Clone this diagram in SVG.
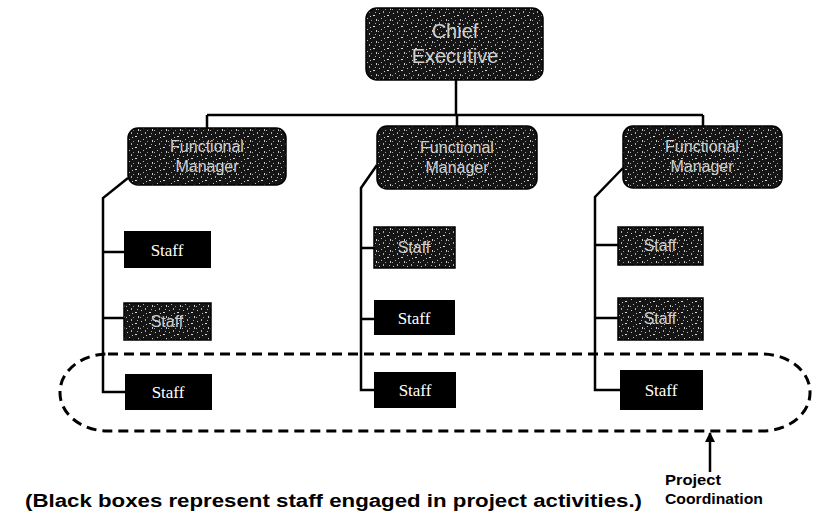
<svg xmlns="http://www.w3.org/2000/svg" width="816" height="517" viewBox="0 0 816 517">
<defs>
<pattern id="speck" width="14" height="11" patternUnits="userSpaceOnUse">
<rect width="14" height="11" fill="#151515"/>
<rect x="1" y="2" width="1" height="1" fill="#ccc"/>
<rect x="5" y="0" width="1" height="2" fill="#aaa"/>
<rect x="9" y="4" width="2" height="1" fill="#ddd"/>
<rect x="3" y="7" width="1" height="1" fill="#bbb"/>
<rect x="12" y="8" width="1" height="2" fill="#ccc"/>
<rect x="7" y="9" width="1" height="1" fill="#999"/>
<rect x="11" y="1" width="1" height="1" fill="#aaa"/>
<rect x="6" y="5" width="1" height="1" fill="#ccc"/>
<rect x="0" y="9" width="1" height="1" fill="#aaa"/>
</pattern>
<marker id="arr" viewBox="0 0 10 10" refX="9" refY="5" markerWidth="5" markerHeight="4" orient="auto">
<path d="M0,0 L10,5 L0,10 z" fill="#000"/>
</marker>
</defs>
<style>
.ln{stroke:#000;stroke-width:2.5;fill:none}
.gray{fill:url(#speck);stroke:#000;stroke-width:1.5}
.blk{fill:#000}
.gt{font-family:"Liberation Sans",Arial,sans-serif;fill:#d0d0d0;text-anchor:middle}
.st{font-family:"Liberation Serif","Times New Roman",serif;font-size:17px;fill:#fff;text-anchor:middle}
.cap{font-family:"Liberation Sans",Arial,sans-serif;font-weight:bold;fill:#000}
</style>

<g id="connectors">
<path class="ln" d="M456,80 V115 M207,115 H703 M207,115 V128 M457,115 V126 M703,115 V126"/>
<path class="ln" d="M128,178 L103,198 V392 H125 M103,252 H124 M103,318 H124"/>
<path class="ln" d="M377,165 L361,188 V390 H374 M361,248 H374 M361,319 H374"/>
<path class="ln" d="M623,168 L595,197 V390 H620 M595,245 H618 M595,318 H618"/>
<rect x="60" y="354" width="750" height="77" rx="48" ry="38" fill="none" stroke="#000" stroke-width="3" stroke-dasharray="10 6"/>
<path class="ln" d="M710,472 V433" marker-end="url(#arr)"/>
</g>

<g id="chief">
<rect class="gray" x="366" y="8" width="177" height="72" rx="11"/>
<text class="gt" x="455" y="38" font-size="20">Chief</text>
<text class="gt" x="455" y="63" font-size="20">Executive</text>
</g>

<g id="manager-left">
<rect class="gray" x="128" y="128" width="158" height="57" rx="10"/>
<text class="gt" x="207" y="152" font-size="16">Functional</text>
<text class="gt" x="207" y="172" font-size="16">Manager</text>
</g>
<g id="manager-mid">
<rect class="gray" x="377" y="126" width="160" height="63" rx="10"/>
<text class="gt" x="457" y="153" font-size="16">Functional</text>
<text class="gt" x="457" y="173" font-size="16">Manager</text>
</g>
<g id="manager-right">
<rect class="gray" x="623" y="126" width="159" height="62" rx="10"/>
<text class="gt" x="702" y="152" font-size="16">Functional</text>
<text class="gt" x="702" y="172" font-size="16">Manager</text>
</g>

<g id="staff-l1"><rect class="blk" x="124" y="231" width="87" height="37"/><text class="st" x="167" y="256">Staff</text></g>
<g id="staff-l2"><rect class="gray" x="124" y="303" width="87" height="37"/><text class="gt" x="167" y="327" font-size="16">Staff</text></g>
<g id="staff-l3"><rect class="blk" x="125" y="374" width="87" height="36"/><text class="st" x="168" y="398">Staff</text></g>

<g id="staff-m1"><rect class="gray" x="374" y="227" width="81" height="41"/><text class="gt" x="414" y="253" font-size="16">Staff</text></g>
<g id="staff-m2"><rect class="blk" x="374" y="300" width="81" height="35"/><text class="st" x="414" y="324">Staff</text></g>
<g id="staff-m3"><rect class="blk" x="374" y="372" width="82" height="36"/><text class="st" x="415" y="396">Staff</text></g>

<g id="staff-r1"><rect class="gray" x="618" y="227" width="85" height="38"/><text class="gt" x="660" y="251" font-size="16">Staff</text></g>
<g id="staff-r2"><rect class="gray" x="618" y="298" width="85" height="42"/><text class="gt" x="660" y="324" font-size="16">Staff</text></g>
<g id="staff-r3"><rect class="blk" x="620" y="370" width="83" height="40"/><text class="st" x="661" y="396">Staff</text></g>

<g id="legend">
<text class="cap" x="25" y="507" font-size="18" textLength="617" lengthAdjust="spacingAndGlyphs">(Black boxes represent staff engaged in project activities.)</text>
<text class="cap" x="665" y="485" font-size="14" textLength="56" lengthAdjust="spacingAndGlyphs">Project</text>
<text class="cap" x="665" y="504" font-size="14" textLength="98" lengthAdjust="spacingAndGlyphs">Coordination</text>
</g>
</svg>
